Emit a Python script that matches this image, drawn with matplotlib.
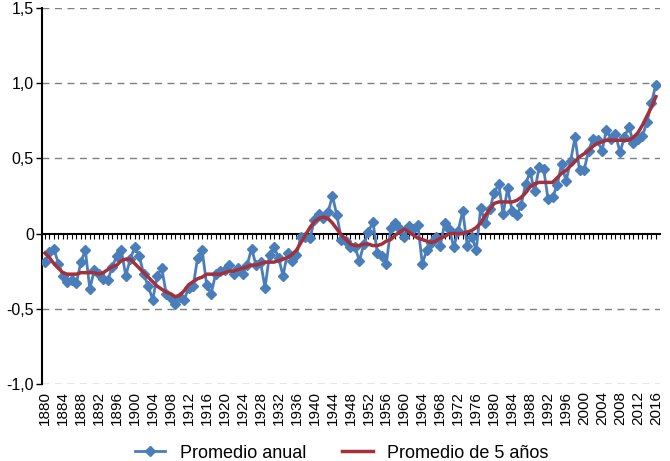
import numpy as np
import matplotlib
matplotlib.use("Agg")
import matplotlib.pyplot as plt

plt.rcParams['font.family'] = ['Liberation Sans', 'DejaVu Sans']

# Anomalía de temperatura global (°C), 1880-2016
anios = list(range(1880, 2017))
promedio_anual = [
    -0.19, -0.12, -0.10, -0.20, -0.28, -0.32, -0.31, -0.33, -0.19, -0.11,   # 1880
    -0.37, -0.24, -0.27, -0.30, -0.31, -0.22, -0.15, -0.11, -0.28, -0.17,   # 1890
    -0.09, -0.15, -0.27, -0.35, -0.44, -0.28, -0.23, -0.40, -0.43, -0.47,   # 1900
    -0.42, -0.44, -0.36, -0.35, -0.16, -0.11, -0.34, -0.40, -0.27, -0.25,   # 1910
    -0.24, -0.21, -0.27, -0.23, -0.27, -0.21, -0.10, -0.21, -0.19, -0.36,   # 1920
    -0.14, -0.09, -0.16, -0.28, -0.13, -0.18, -0.14, -0.02, -0.02, -0.03,   # 1930
    0.09, 0.13, 0.10, 0.14, 0.25, 0.12, -0.04, -0.05, -0.09, -0.09,         # 1940
    -0.18, -0.07, 0.01, 0.08, -0.13, -0.15, -0.20, 0.04, 0.07, 0.03,        # 1950
    -0.02, 0.05, 0.03, 0.06, -0.20, -0.11, -0.06, -0.02, -0.08, 0.07,       # 1960
    0.03, -0.09, 0.02, 0.15, -0.08, -0.02, -0.11, 0.17, 0.07, 0.16,         # 1970
    0.27, 0.33, 0.13, 0.30, 0.15, 0.12, 0.19, 0.33, 0.41, 0.28,             # 1980
    0.44, 0.43, 0.23, 0.24, 0.32, 0.46, 0.35, 0.48, 0.64, 0.42,             # 1990
    0.42, 0.55, 0.63, 0.62, 0.55, 0.69, 0.63, 0.66, 0.54, 0.64,             # 2000
    0.71, 0.60, 0.63, 0.65, 0.74, 0.87, 0.99,                               # 2010
]
promedio_5 = [
    -0.13, -0.16, -0.20, -0.23, -0.26, -0.27, -0.27, -0.27, -0.26, -0.26,
    -0.26, -0.26, -0.27, -0.26, -0.24, -0.22, -0.21, -0.18, -0.17, -0.17,
    -0.20, -0.23, -0.26, -0.29, -0.32, -0.35, -0.37, -0.39, -0.40, -0.42,
    -0.41, -0.38, -0.34, -0.32, -0.30, -0.29, -0.27, -0.27, -0.27, -0.27,
    -0.26, -0.25, -0.25, -0.24, -0.23, -0.22, -0.21, -0.21, -0.20, -0.19,
    -0.19, -0.19, -0.18, -0.17, -0.16, -0.14, -0.11, -0.06, -0.01, 0.04,
    0.08, 0.10, 0.11, 0.10, 0.07, 0.03, -0.01, -0.04, -0.07, -0.08,
    -0.08, -0.07, -0.07, -0.08, -0.08, -0.07, -0.05, -0.04, -0.01, 0.01,
    0.03, 0.01, -0.01, -0.03, -0.04, -0.05, -0.06, -0.05, -0.03, -0.02,
    0.00, 0.00, 0.00, 0.00, 0.01, 0.02, 0.04, 0.07, 0.12, 0.16,
    0.20, 0.21, 0.21, 0.21, 0.21, 0.22, 0.24, 0.27, 0.31, 0.33,
    0.34, 0.34, 0.34, 0.34, 0.37, 0.40, 0.42, 0.45, 0.48, 0.51,
    0.53, 0.55, 0.58, 0.60, 0.61, 0.62, 0.62, 0.62, 0.62, 0.62,
    0.62, 0.64, 0.67, 0.72, 0.78, 0.84, 0.91,
]
y_ticks = [-1.0, -0.5, 0.0, 0.5, 1.0, 1.5]
y_etiquetas = ['-1,0', '-0,5', '0', '0,5', '1,0', '1,5']
x_etiquetas = anios[::4]

fig = plt.figure(figsize=(6.7, 4.61), dpi=100)
ax = fig.add_axes([0.063, 0.167, 0.922, 0.816])

# lineas de referencia
for y in y_ticks:
    if y != 0:
        ax.axhline(y, color='#7f7f7f', lw=1.0, ls=(0, (5, 4)), zorder=1)

ax.plot(anios, promedio_anual, color='#4a7ebb', lw=2, marker='D', markersize=5.5,
        label='Promedio anual', zorder=3)
ax.plot(anios, promedio_5, color='#a3303b', lw=2.5, label='Promedio de 5 años', zorder=4)

ax.set_xlim(1879.4, 2016.9)
ax.set_ylim(-1.0, 1.5)
ax.set_yticks(y_ticks)
ax.set_yticklabels(y_etiquetas)
ax.tick_params(axis='y', length=4, width=1, labelsize=11.5, pad=2)

for s in ['top', 'right']:
    ax.spines[s].set_visible(False)
ax.spines['left'].set_linewidth(1.5)
ax.spines['bottom'].set_position(('data', 0))
ax.spines['bottom'].set_linewidth(1.5)
ax.spines['bottom'].set_zorder(2)
ax.set_xticks(anios)
ax.tick_params(axis='x', length=3.5, width=0.8, labelbottom=False, direction='out')

# etiquetas de años abajo
sec = ax.secondary_xaxis('bottom')
sec.set_xticks(x_etiquetas)
sec.set_xticklabels([str(a) for a in x_etiquetas], rotation=90)
sec.tick_params(length=0, labelsize=11, pad=5)
sec.spines['bottom'].set_visible(False)

fig.legend(loc='lower center', ncol=2, frameon=False, fontsize=13,
           bbox_to_anchor=(0.51, -0.037), handlelength=1.7, handletextpad=0.8,
           columnspacing=2.0)

fig.savefig('out.png', dpi=100)
